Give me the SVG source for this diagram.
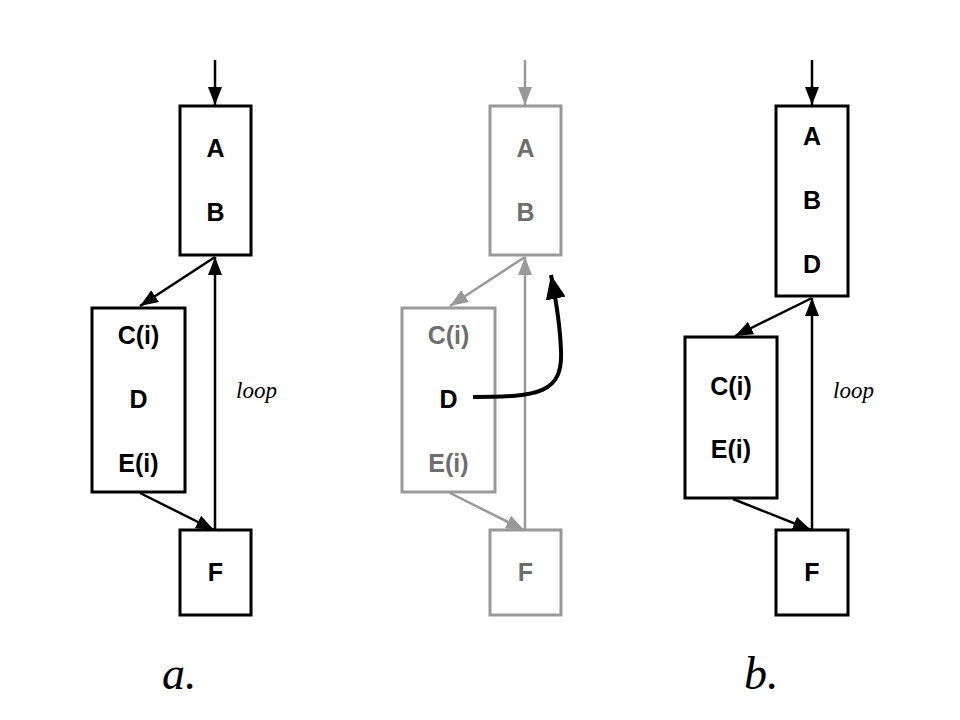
<svg xmlns="http://www.w3.org/2000/svg" width="960" height="720" viewBox="0 0 960 720">
<style>
.box{fill:#fff;stroke:#000;stroke-width:3}
.gbox{fill:#fff;stroke:#999;stroke-width:3}
.lbl{font-family:"Liberation Sans",Arial,sans-serif;font-weight:bold;font-size:25px;text-anchor:middle;fill:#000}
.glbl{fill:#6e6e6e}
.it{font-family:"Liberation Serif","Times New Roman",serif;font-style:italic;fill:#000}
.ln{fill:none;stroke:#000;stroke-width:2.5}
.gln{fill:none;stroke:#999;stroke-width:2.5}
</style>
<defs>
<marker id="ah" markerUnits="userSpaceOnUse" markerWidth="20" markerHeight="14" refX="18" refY="7" orient="auto">
<path d="M0,0 L18,7 L0,14 Z" fill="#000"/>
</marker>
<marker id="gah" markerUnits="userSpaceOnUse" markerWidth="20" markerHeight="14" refX="18" refY="7" orient="auto">
<path d="M0,0 L18,7 L0,14 Z" fill="#999"/>
</marker>
<marker id="bah" markerUnits="userSpaceOnUse" markerWidth="26" markerHeight="20" refX="24" refY="10" orient="auto">
<path d="M0,0 L24,10 L0,20 Z" fill="#000"/>
</marker>
</defs>

<g id="a-AB">
<rect class="box" x="180" y="106" width="71" height="149"/>
<text class="lbl" x="215.5" y="157">A</text>
<text class="lbl" x="215.5" y="221">B</text>
</g>
<g id="a-CDE">
<rect class="box" x="92" y="308" width="93" height="184"/>
<text class="lbl" x="138.5" y="344">C(i)</text>
<text class="lbl" x="138.5" y="408">D</text>
<text class="lbl" x="138.5" y="472">E(i)</text>
</g>
<g id="a-F">
<rect class="box" x="180" y="530" width="71" height="85"/>
<text class="lbl" x="215.5" y="581">F</text>
</g>
<text class="it" x="236" y="398" font-size="23">loop</text>

<g id="m-AB">
<rect class="gbox" x="490" y="106" width="71" height="149"/>
<text class="lbl glbl" x="525.5" y="157">A</text>
<text class="lbl glbl" x="525.5" y="221">B</text>
</g>
<g id="m-CDE">
<rect class="gbox" x="402" y="308" width="93" height="184"/>
<text class="lbl glbl" x="448.5" y="344">C(i)</text>
<text class="lbl" x="448.5" y="408">D</text>
<text class="lbl glbl" x="448.5" y="472">E(i)</text>
</g>
<g id="m-F">
<rect class="gbox" x="490" y="530" width="71" height="85"/>
<text class="lbl glbl" x="525.5" y="581">F</text>
</g>

<g id="b-ABD">
<rect class="box" x="776" y="106" width="72" height="190"/>
<text class="lbl" x="812" y="145">A</text>
<text class="lbl" x="812" y="209">B</text>
<text class="lbl" x="812" y="273">D</text>
</g>
<g id="b-CE">
<rect class="box" x="685" y="337" width="92" height="161"/>
<text class="lbl" x="731" y="395">C(i)</text>
<text class="lbl" x="731" y="458">E(i)</text>
</g>
<g id="b-F">
<rect class="box" x="776" y="530" width="72" height="85"/>
<text class="lbl" x="812" y="581">F</text>
</g>
<text class="it" x="833" y="398" font-size="23">loop</text>

<text class="it" x="162" y="689" font-size="46">a.</text>
<text class="it" x="744" y="689" font-size="46">b.</text>

<g id="connectors">
<path class="ln" d="M215,60 L215,105" marker-end="url(#ah)"/>
<path class="ln" d="M215,257 L140,306" marker-end="url(#ah)"/>
<path class="ln" d="M140,493 L214,530" marker-end="url(#ah)"/>
<path class="ln" d="M215,529 L215,257" marker-end="url(#ah)"/>

<path class="gln" d="M525,60 L525,105" marker-end="url(#gah)"/>
<path class="gln" d="M525,257 L450,306" marker-end="url(#gah)"/>
<path class="gln" d="M450,493 L524,530" marker-end="url(#gah)"/>
<path class="gln" d="M525,529 L525,257" marker-end="url(#gah)"/>

<path class="ln" d="M812,60 L812,105" marker-end="url(#ah)"/>
<path class="ln" d="M812,298 L735,336" marker-end="url(#ah)"/>
<path class="ln" d="M733,499 L811,530" marker-end="url(#ah)"/>
<path class="ln" d="M812,529 L812,298" marker-end="url(#ah)"/>

<path d="M473,397 C540,397 563,393 561,350 C560,325 557,305 551,275" fill="none" stroke="#000" stroke-width="4" marker-end="url(#bah)"/>
</g>
</svg>
